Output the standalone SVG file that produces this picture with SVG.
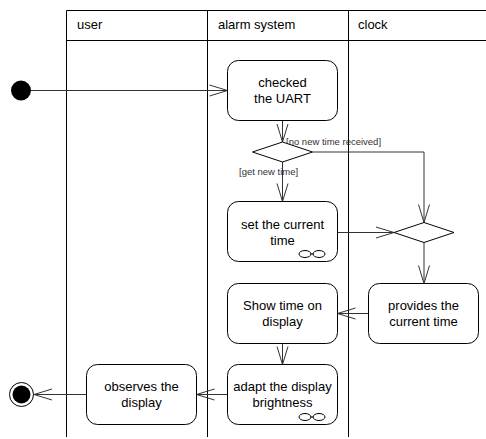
<svg xmlns="http://www.w3.org/2000/svg" width="486" height="439" viewBox="0 0 486 439">
  <defs>
    <marker id="open" markerUnits="userSpaceOnUse" viewBox="-20 -8 22 16" refX="0" refY="0" markerWidth="22" markerHeight="16" orient="auto" overflow="visible">
      <path d="M-18,-5.5 L0,0 L-18,5.5" fill="none" stroke="#333" stroke-width="1"/>
    </marker>
    <g id="rake">
      <ellipse cx="-7" cy="0" rx="6" ry="3.5" fill="none" stroke="#000" stroke-width="1"/>
      <ellipse cx="7" cy="0" rx="6" ry="3.5" fill="none" stroke="#000" stroke-width="1"/>
      <line x1="-1.5" y1="0" x2="1.5" y2="0" stroke="#000" stroke-width="1"/>
    </g>
  </defs>
  <style>
    .lane { stroke: #000; stroke-width: 1; fill: none; }
    .act { fill: #fff; stroke: #000; stroke-width: 1; }
    .dec { fill: #fff; stroke: #000; stroke-width: 1; }
    .edge { fill: none; stroke: #333; stroke-width: 1; marker-end: url(#open); }
    .lbl { font-family: "Liberation Sans", Arial, sans-serif; font-size: 13px; fill: #000; text-anchor: middle; }
    .hdr { font-family: "Liberation Sans", Arial, sans-serif; font-size: 13px; fill: #000; }
    .grd { font-family: "Liberation Sans", Arial, sans-serif; font-size: 9.5px; fill: #333; }
  </style>

  <rect width="486" height="439" fill="#fff"/>

  <!-- swimlanes -->
  <g id="lanes">
    <line class="lane" x1="66.5" y1="10.5" x2="486" y2="10.5"/>
    <line class="lane" x1="66.5" y1="40.5" x2="486" y2="40.5"/>
    <line class="lane" x1="66.5" y1="10.5" x2="66.5" y2="437"/>
    <line class="lane" x1="207.5" y1="10.5" x2="207.5" y2="437"/>
    <line class="lane" x1="348.5" y1="10.5" x2="348.5" y2="437"/>
    <text class="hdr" x="77" y="29">user</text>
    <text class="hdr" x="218" y="29">alarm system</text>
    <text class="hdr" x="358" y="29">clock</text>
  </g>

  <!-- connectors -->
  <g id="edges">
    <line class="edge" x1="31" y1="90.5" x2="227.5" y2="90.5"/>
    <line class="edge" x1="282.5" y1="120.5" x2="282.5" y2="142"/>
    <polyline class="edge" points="312.5,152 424,152 424,222.5"/>
    <line class="edge" x1="282.5" y1="162" x2="282.5" y2="201.5"/>
    <line class="edge" x1="337.5" y1="232.5" x2="394" y2="232.5"/>
    <line class="edge" x1="424" y1="242.5" x2="424" y2="283.5"/>
    <line class="edge" x1="368.5" y1="313.5" x2="337.5" y2="313.5"/>
    <line class="edge" x1="282.5" y1="343.5" x2="282.5" y2="364.5"/>
    <line class="edge" x1="227.5" y1="394.5" x2="196.5" y2="394.5"/>
    <line class="edge" x1="86.5" y1="394.5" x2="34" y2="394.5"/>
    <text class="grd" x="286" y="145">[no new time received]</text>
    <text class="grd" x="239" y="175">[get new time]</text>
  </g>

  <g id="start">
    <circle cx="21" cy="90.5" r="10" fill="#000"/>
  </g>

  <g id="checkUart">
    <rect class="act" x="227.5" y="60.5" width="110" height="60" rx="11"/>
    <text class="lbl" x="282.5" y="86.5">checked</text>
    <text class="lbl" x="282.5" y="103">the UART</text>
  </g>

  <g id="decision1">
    <polygon class="dec" points="252.5,152 282.5,142 312.5,152 282.5,162"/>
  </g>

  <g id="setTime">
    <rect class="act" x="227.5" y="201.5" width="110" height="60" rx="11"/>
    <text class="lbl" x="282.5" y="229">set the current</text>
    <text class="lbl" x="282.5" y="245">time</text>
    <use href="#rake" x="312" y="254"/>
  </g>

  <g id="merge">
    <polygon class="dec" points="394,232.5 424,222.5 454,232.5 424,242.5"/>
  </g>

  <g id="provideTime">
    <rect class="act" x="368.5" y="283.5" width="110" height="60" rx="11"/>
    <text class="lbl" x="423.5" y="310">provides the</text>
    <text class="lbl" x="423.5" y="326">current time</text>
  </g>

  <g id="showTime">
    <rect class="act" x="227.5" y="283.5" width="110" height="60" rx="11"/>
    <text class="lbl" x="282.5" y="310">Show time on</text>
    <text class="lbl" x="282.5" y="326">display</text>
  </g>

  <g id="adaptBrightness">
    <rect class="act" x="227.5" y="364.5" width="110" height="60" rx="11"/>
    <text class="lbl" x="282.5" y="391">adapt the display</text>
    <text class="lbl" x="282.5" y="407">brightness</text>
    <use href="#rake" x="312" y="417"/>
  </g>

  <g id="observeDisplay">
    <rect class="act" x="86.5" y="364.5" width="110" height="60" rx="11"/>
    <text class="lbl" x="141.5" y="391">observes the</text>
    <text class="lbl" x="141.5" y="407">display</text>
  </g>

  <g id="end">
    <circle cx="21.5" cy="394.5" r="12" fill="#fff" stroke="#000" stroke-width="1"/>
    <circle cx="21.5" cy="394.5" r="9" fill="#000"/>
  </g>
</svg>
